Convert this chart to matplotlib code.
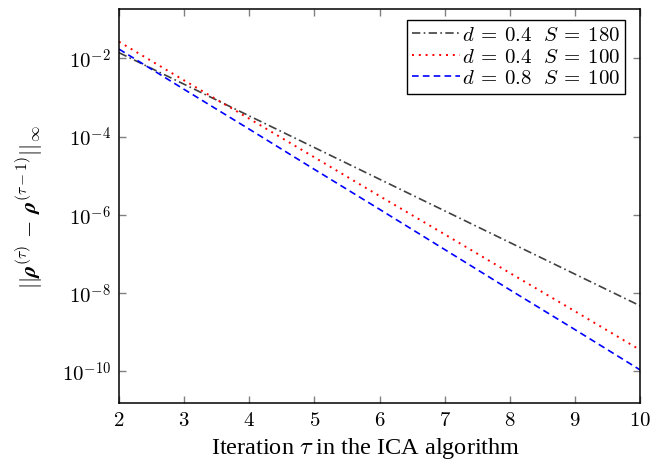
import numpy as np
import matplotlib
matplotlib.use('Agg')
import matplotlib.pyplot as plt

plt.rcParams['font.family'] = ['Liberation Serif', 'DejaVu Serif']
plt.rcParams['mathtext.fontset'] = 'cm'

iterations = [2, 3, 4, 5, 6, 7, 8, 9, 10]
err_d04_s180 = [1.41e-2, 2.19e-3, 3.39e-4, 5.25e-5, 8.13e-6, 1.26e-6, 1.95e-7, 3.02e-8, 4.68e-9]
err_d04_s100 = [2.69e-2, 2.75e-3, 2.88e-4, 2.95e-5, 3.02e-6, 3.16e-7, 3.24e-8, 3.39e-9, 3.47e-10]
err_d08_s100 = [1.74e-2, 1.62e-3, 1.55e-4, 1.45e-5, 1.38e-6, 1.29e-7, 1.20e-8, 1.15e-9, 1.07e-10]
labels = [r'$d\:=\:0.4\ \ S\:=\:180$', r'$d\:=\:0.4\ \ S\:=\:100$', r'$d\:=\:0.8\ \ S\:=\:100$']

fig = plt.figure(figsize=(6.51, 4.64), dpi=100)
ax = fig.add_axes([119 / 651, 60 / 464, 521 / 651, 394.5 / 464])

ax.plot(iterations, err_d04_s180, color='#404040', ls=(0, (5, 2, 1, 2)), lw=1.2, label=labels[0])
ax.plot(iterations, err_d04_s100, color='red', ls=(0, (1, 2.5)), lw=1.4, label=labels[1])
ax.plot(iterations, err_d08_s100, color='blue', ls=(0, (4, 2.5)), lw=1.2, label=labels[2])

ax.set_yscale('log')
ax.set_xlim(2, 10)
ax.set_ylim(10 ** -10.82, 10 ** -0.72)
ax.set_xticks(iterations)
ax.set_yticks([1e-2, 1e-4, 1e-6, 1e-8, 1e-10])
ax.set_yticklabels([r'$10^{-2}$', r'$10^{-4}$', r'$10^{-6}$', r'$10^{-8}$', r'$10^{-10}$'])
ax.set_xticklabels([r'$%d$' % i for i in iterations])
ax.yaxis.set_minor_locator(matplotlib.ticker.NullLocator())
ax.tick_params(direction='in', length=5, width=1, color='#808080', top=True, right=True, labelsize=15, pad=6)

for s in ax.spines.values():
    s.set_linewidth(1.1)

ax.set_xlabel(r'Iteration $\tau$ in the ICA algorithm', fontsize=17.5)
ax.xaxis.set_label_coords(0.474, -0.08, transform=ax.transAxes)
ax.set_ylabel(r'$||\boldsymbol{\rho}^{(\tau)}\,-\,\boldsymbol{\rho}^{(\tau-1)}||_\infty$', fontsize=16, labelpad=12)

leg = ax.legend(loc='upper right', fontsize=15, handlelength=2.3, handletextpad=0.1,
                fancybox=False, framealpha=1, edgecolor='black', borderpad=0.25,
                labelspacing=0.1, borderaxespad=0, bbox_to_anchor=(0.972, 0.97))
leg.get_frame().set_linewidth(1.0)

fig.savefig('out.png', dpi=100)
